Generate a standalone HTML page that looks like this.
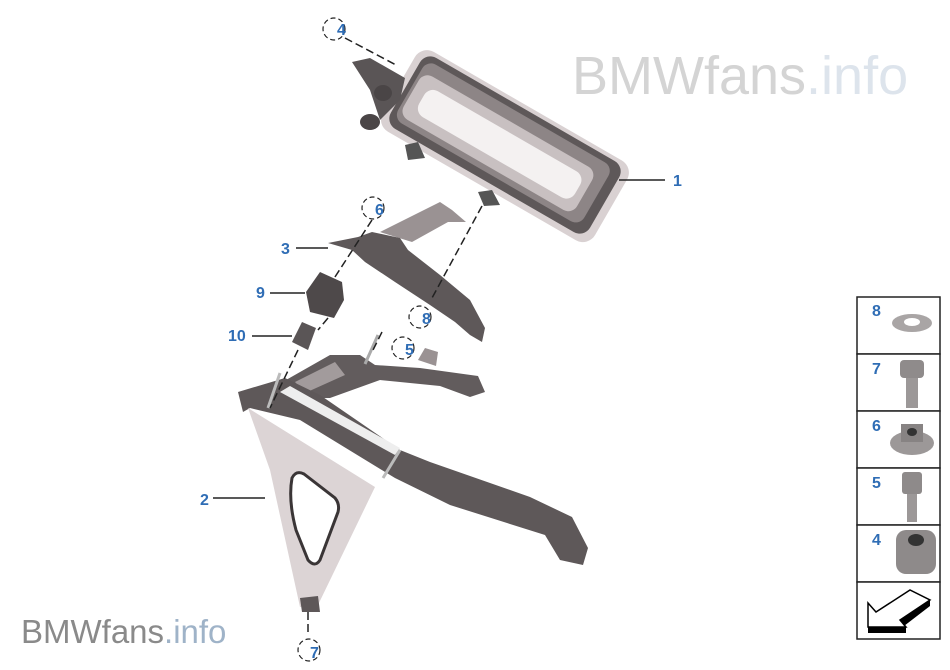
<!DOCTYPE html><html><head><style>
body{margin:0;width:950px;height:665px;background:#fff;overflow:hidden;font-family:"Liberation Sans",sans-serif}
</style></head><body>
<svg width="950" height="665" viewBox="0 0 950 665" xmlns="http://www.w3.org/2000/svg" font-family="Liberation Sans, sans-serif">
<text x="572" y="94" font-size="54" fill="#d4d4d4">BMWfans<tspan fill="#dde4ec">.info</tspan></text>
<text x="21" y="643" font-size="33" fill="#8a8a8a">BMWfans<tspan fill="#9fb3c8">.info</tspan></text>
<!-- canister -->
<g transform="rotate(30 505 145)">
<rect x="383" y="100" width="245" height="92" rx="14" fill="#d9d1d2"/>
<rect x="390" y="104" width="230" height="82" rx="12" fill="#5e5859"/>
<rect x="395" y="110" width="215" height="68" rx="10" fill="#8d8586"/>
<rect x="398" y="122" width="200" height="50" rx="10" fill="#c8c0c1"/>
<rect x="410" y="132" width="180" height="30" rx="10" fill="#f4f1f1"/>
</g>
<path d="M352 62 L370 58 L405 78 L400 100 L380 120 L370 90 Z" fill="#5a5556"/>
<ellipse cx="383" cy="93" rx="9" ry="8" fill="#4a4546"/>
<ellipse cx="370" cy="122" rx="10" ry="8" fill="#4a4546"/>
<path d="M405 145 L418 142 L425 158 L408 160 Z" fill="#555"/>
<path d="M478 192 L492 190 L500 205 L484 206 Z" fill="#555"/>
<!-- bracket 3 -->
<path d="M380 232 L440 202 L452 210 L466 222 L448 222 L412 242 Z" fill="#9a9293"/>
<path d="M328 243 L358 237 L372 232 L400 238 L408 250 L440 275 L470 300 L485 328 L482 342 L470 335 L455 322 L430 305 L395 282 L365 262 L352 250 Z" fill="#5e5859"/>
<!-- 9 and 10 -->
<path d="M306 292 L320 272 L342 282 L344 300 L334 318 L310 312 Z" fill="#4e494a"/>
<path d="M292 342 L302 322 L316 328 L308 350 Z" fill="#5a5556"/>
<!-- frame 2 -->
<path d="M286 380 L330 355 L360 355 L375 365 L420 368 L478 376 L485 392 L470 397 L440 386 L380 380 L330 398 L300 398 Z" fill="#625c5d"/>
<path d="M295 382 L335 362 L345 375 L305 393 Z" fill="#a29b9c"/>
<path d="M238 392 L285 378 L320 395 L400 450 L430 462 L530 497 L572 517 L588 548 L583 565 L560 560 L545 535 L450 505 L395 478 L300 420 L250 408 L243 412 Z" fill="#5e5859"/>
<path d="M280 392 L395 455 L400 448 L290 386 Z" fill="#eee"/>
<path d="M248 408 L375 487 L318 605 L300 607 L270 470 Z" fill="#dcd4d5"/>
<path d="M292 478 Q296 470 304 474 L335 498 Q340 504 338 512 L320 560 Q315 568 308 560 L296 530 Q288 500 292 478 Z" fill="#fff" stroke="#3a3536" stroke-width="3"/>
<path d="M300 598 L318 596 L320 612 L302 612 Z" fill="#5e5859"/>
<line x1="268" y1="408" x2="280" y2="373" stroke="#bbb" stroke-width="3"/>
<line x1="383" y1="478" x2="400" y2="450" stroke="#bbb" stroke-width="3"/>
<line x1="365" y1="364" x2="378" y2="335" stroke="#aaa" stroke-width="3"/>
<path d="M418 360 L425 348 L438 352 L436 366 Z" fill="#9a9293"/>
<!-- dashed leaders -->
<g stroke="#222" stroke-width="1.5" stroke-dasharray="8,4" fill="none">
<line x1="345" y1="38" x2="398" y2="66"/>
<line x1="372" y1="220" x2="333" y2="280"/>
<line x1="328" y1="318" x2="318" y2="330"/>
<line x1="482" y1="206" x2="432" y2="298"/>
<line x1="298" y1="350" x2="270" y2="408"/>
<line x1="382" y1="332" x2="372" y2="352"/>
<line x1="308" y1="612" x2="308" y2="632"/>
</g>
<g fill="none" stroke="#222" stroke-width="1.2" stroke-dasharray="5,3">
<circle cx="334" cy="29" r="11"/><circle cx="373" cy="208" r="11"/>
<circle cx="420" cy="317" r="11"/><circle cx="403" cy="348" r="11"/>
<circle cx="309" cy="650" r="11"/>
</g>
<!-- solid leaders -->
<g stroke="#222" stroke-width="1.5">
<line x1="619" y1="180" x2="665" y2="180"/>
<line x1="296" y1="248" x2="328" y2="248"/>
<line x1="270" y1="293" x2="305" y2="293"/>
<line x1="252" y1="336" x2="292" y2="336"/>
<line x1="213" y1="498" x2="265" y2="498"/>
</g>
<g fill="#2f6db5" font-weight="bold" font-size="16">
<text x="337" y="35">4</text><text x="673" y="186">1</text>
<text x="375" y="215">6</text><text x="281" y="254">3</text>
<text x="256" y="298">9</text><text x="228" y="341">10</text>
<text x="422" y="324">8</text><text x="405" y="355">5</text>
<text x="200" y="505">2</text><text x="310" y="658">7</text>
</g>
<!-- side panel -->
<g fill="#fff" stroke="#222" stroke-width="1.5">
<rect x="857" y="297" width="83" height="57"/><rect x="857" y="354" width="83" height="57"/>
<rect x="857" y="411" width="83" height="57"/><rect x="857" y="468" width="83" height="57"/>
<rect x="857" y="525" width="83" height="57"/><rect x="857" y="582" width="83" height="57"/>
</g>
<g fill="#2f6db5" font-weight="bold" font-size="16">
<text x="872" y="316">8</text><text x="872" y="374">7</text><text x="872" y="431">6</text>
<text x="872" y="488">5</text><text x="872" y="545">4</text>
</g>
<ellipse cx="912" cy="323" rx="20" ry="9" fill="#a9a5a5"/><ellipse cx="912" cy="322" rx="8" ry="4" fill="#fff"/>
<rect x="900" y="360" width="24" height="18" rx="4" fill="#8f8b8b"/><rect x="906" y="378" width="12" height="30" fill="#9c9898"/>
<ellipse cx="912" cy="443" rx="22" ry="12" fill="#9c9898"/><rect x="901" y="424" width="22" height="18" fill="#878383"/><ellipse cx="912" cy="432" rx="5" ry="4" fill="#333"/>
<rect x="902" y="472" width="20" height="22" rx="3" fill="#8e8a8a"/><rect x="907" y="494" width="10" height="28" fill="#9c9898"/>
<rect x="896" y="530" width="40" height="44" rx="10" fill="#8e8a8a"/><ellipse cx="916" cy="540" rx="8" ry="6" fill="#333"/>
<path d="M868 627 L868 603 L876 612 L910 590 L930 600 L900 620 L906 627 Z" fill="#fff" stroke="#000" stroke-width="1.5"/>
<path d="M868 627 L906 627 L906 633 L868 633 Z M900 620 L930 600 L930 606 L904 626 Z" fill="#000"/>
</svg>
</body></html>
